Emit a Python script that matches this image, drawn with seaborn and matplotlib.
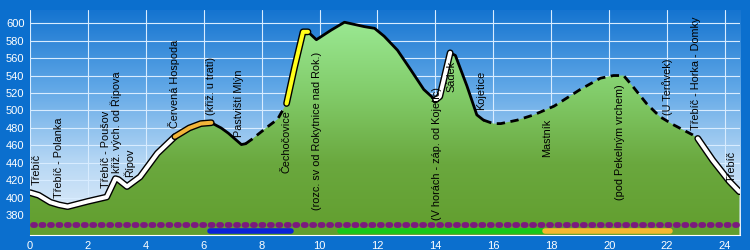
import numpy as np
import matplotlib
matplotlib.use("Agg")
import matplotlib.pyplot as plt
import matplotlib.patheffects as pe
from matplotlib.colors import LinearSegmentedColormap
import seaborn as sns

# ========= DATA ==========
km = [0.0, 0.3, 0.7, 1.0, 1.3, 2.0, 2.65, 2.95, 3.05, 3.35, 3.8, 4.4, 5.0, 5.5, 5.9, 6.26,
      6.6, 6.85, 7.3, 7.45, 7.66, 8.23, 8.55, 8.86, 9.14, 9.43, 9.6, 9.89, 10.4, 10.86,
      11.54, 11.9, 12.23, 12.69, 13.14, 13.6, 14.0, 14.15, 14.51, 14.69, 15.09, 15.43,
      15.66, 16.0, 16.26, 16.83, 17.4, 18.1, 19.0, 19.7, 20.15, 20.5, 20.83, 21.29,
      21.75, 22.2, 22.89, 23.06, 23.58, 24.15, 24.5]
elev = [406, 403, 395, 392, 390, 396, 401, 422, 421, 413, 424, 451, 470, 480, 485, 486,
        480, 474, 461, 462, 467, 482, 490, 508, 550, 590, 590, 581, 592, 601,
        596, 594, 585, 569, 547, 524, 512, 516, 566, 563, 528, 495,
        489, 485, 485, 489, 495, 505, 524, 537, 540, 540, 527, 508,
        493, 484, 472, 468, 443, 419, 407]

# line segments (from km, to km, style)
seg_start = [0.0, 5.0, 6.26, 7.45, 8.86, 9.6, 14.0, 14.51, 15.66, 23.06]
seg_end = [5.0, 6.26, 7.45, 8.86, 9.6, 14.0, 14.51, 15.66, 23.06, 24.5]
seg_style = ["white", "orange", "black", "dash", "yellow", "black", "white", "black", "dash", "white"]

# waypoint labels
lbl_text = ["Třebíč", "Třebíč - Polanka", "Třebíč - Poušov", "křiž. vých. od Řípova", "Řípov",
            "Červená Hospoda", "(křiž. u trati)", "Pastviští Mlýn", "Čechočovice",
            "(rozc. sv od Rokytnice nad Rok.)", "(V horách - záp. od Kojetic)", "Sádek",
            "Kojetice", "Mastník", "(pod Pekelným vrchem)", "(U Terůvek)",
            "Třebíč - Horka - Domky", "Třebíč"]
lbl_km = [0.24, 1.0, 2.62, 2.97, 3.42, 4.97, 6.25, 7.22, 8.87, 9.91, 14.05, 14.57,
          15.57, 17.85, 20.37, 22.03, 23.0, 24.24]
lbl_elev = [415, 400, 411, 428, 424, 480, 495, 470, 428, 386, 375, 521, 501, 447, 398,
            495, 478, 418]

# colored bars along the bottom
bar_start = [6.2, 10.7, 17.8]
bar_end = [9.0, 17.8, 22.1]
bar_color = ["#0a22d8", "#18c818", "#f4b830"]

x_ticks = list(range(0, 25, 2))
y_ticks = list(range(380, 601, 20))

# ========= PLOT ==========
BG = "#0b6fce"
XMAX, YMIN, YMAX = 24.52, 357.5, 615

sns.set_style("white")
plt.rcParams["font.family"] = ["Liberation Sans", "DejaVu Sans"]

fig = plt.figure(figsize=(7.5, 2.5), dpi=100, facecolor=BG)
ax = fig.add_axes([0.04, 0.06, 0.9467, 0.9])
ax.set_xlim(0, XMAX)
ax.set_ylim(YMIN, YMAX)

grad = np.linspace(0, 1, 256).reshape(-1, 1)
sky = LinearSegmentedColormap.from_list("sky", ["#1574d0", "#5ea6e6", "#b4d6f4", "#eaf2fb"])
ax.imshow(grad, cmap=sky, extent=[0, XMAX, YMIN, YMAX], aspect="auto", origin="upper", zorder=0)

for t in x_ticks:
    ax.axvline(t, color="#d8ecff", lw=0.8, zorder=1)
for t in y_ticks:
    ax.axhline(t, color="#d8ecff", lw=0.8, zorder=1)

fill = ax.fill_between(km, elev, YMIN, facecolor="none", edgecolor="none", zorder=2)
green = LinearSegmentedColormap.from_list("grn", ["#9ae892", "#82cc6a", "#6aa83e", "#629e2e"])
g_img = ax.imshow(grad, cmap=green, extent=[0, XMAX, YMIN, 601], aspect="auto", origin="upper", zorder=2)
g_img.set_clip_path(fill.get_paths()[0], transform=ax.transData)

km_arr = np.array(km)
elev_arr = np.array(elev)
for s, e, st in zip(seg_start, seg_end, seg_style):
    m = (km_arr >= s) & (km_arr <= e)
    xs, ys = km_arr[m], elev_arr[m]
    if st == "black":
        sns.lineplot(x=xs, y=ys, ax=ax, color="black", lw=2, sort=False, estimator=None, zorder=5)
    elif st == "dash":
        sns.lineplot(x=xs, y=ys, ax=ax, color="black", lw=2, sort=False, estimator=None,
                     linestyle=(0, (3, 2)), zorder=5)
    else:
        col = {"white": "white", "orange": "#f2b53a", "yellow": "#ffff1a"}[st]
        sns.lineplot(x=xs, y=ys, ax=ax, color=col, lw=2.9, sort=False, estimator=None, zorder=6,
                     path_effects=[pe.Stroke(linewidth=4.9, foreground="black"), pe.Normal()])

for t, x, y in zip(lbl_text, lbl_km, lbl_elev):
    ax.text(x, y, t, rotation=90, ha="center", va="bottom", fontsize=7.8, color="black", zorder=7)

# purple dotted route line
ax.plot([0.1, XMAX - 0.1], [368.5, 368.5], color="#7b1a7e", lw=4.2, linestyle=(0, (0.35, 1.1)),
        dash_capstyle="round", zorder=4)
for s, e, c in zip(bar_start, bar_end, bar_color):
    ax.plot([s, e], [362, 362], color=c, lw=4, solid_capstyle="round", zorder=4)

ax.set_xticks(x_ticks)
ax.set_yticks(y_ticks)
ax.tick_params(colors="white", labelsize=8, length=3, width=0.8, pad=1)
for sp in ["top", "right", "left"]:
    ax.spines[sp].set_visible(False)
ax.spines["bottom"].set_color("white")
ax.spines["bottom"].set_linewidth(0.8)
ax.set_xlabel("")
ax.set_ylabel("")

fig.savefig("out.png", dpi=100, facecolor=BG)
